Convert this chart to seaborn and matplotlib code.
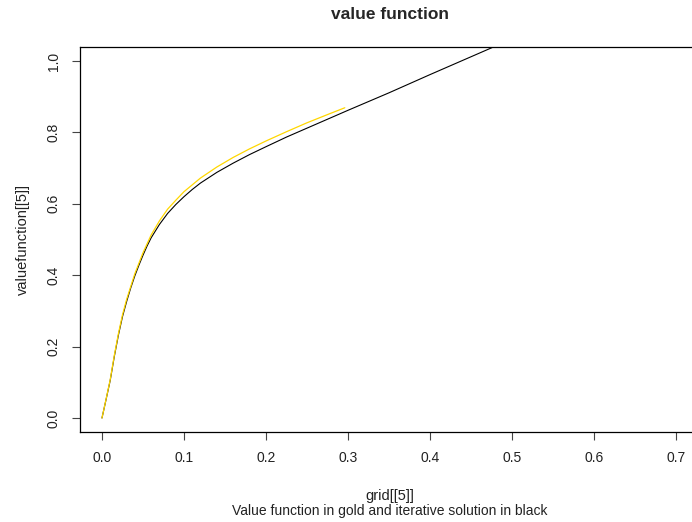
#!/usr/bin/env python3
# -*- coding: utf-8 -*-
"""
Value function vs iterative solution (R base-graphics look)
"""
import matplotlib
matplotlib.use('Agg')
import matplotlib.pyplot as plt
import seaborn as sns
import pandas as pd

# values
grid_x = [0.0, 0.005, 0.01, 0.015, 0.02, 0.025, 0.03, 0.035, 0.04, 0.045,
          0.05, 0.055, 0.06, 0.07, 0.08, 0.09, 0.10, 0.11, 0.12, 0.14,
          0.16, 0.18, 0.20, 0.225, 0.25, 0.275, 0.30, 0.35, 0.40, 0.45, 0.50]
iter_y = [0.0, 0.052, 0.105, 0.172, 0.232, 0.284, 0.326, 0.364, 0.398, 0.428,
          0.456, 0.482, 0.505, 0.542, 0.573, 0.598, 0.62, 0.64, 0.658, 0.688,
          0.714, 0.738, 0.76, 0.787, 0.812, 0.837, 0.862, 0.911, 0.962, 1.012, 1.062]

gold_x = [0.0, 0.005, 0.01, 0.015, 0.02, 0.025, 0.03, 0.04, 0.05, 0.06, 0.07,
          0.08, 0.09, 0.10, 0.12, 0.14, 0.16, 0.18, 0.20, 0.225, 0.25,
          0.275, 0.296]
gold_y = [0.0, 0.053, 0.107, 0.175, 0.236, 0.289, 0.332, 0.404, 0.463, 0.513, 0.552,
          0.585, 0.61, 0.634, 0.672, 0.703, 0.73, 0.754, 0.776, 0.802, 0.827,
          0.85, 0.869]

x_ticks = [0.0, 0.1, 0.2, 0.3, 0.4, 0.5, 0.6, 0.7]
y_ticks = [0.0, 0.2, 0.4, 0.6, 0.8, 1.0]

df_iter = pd.DataFrame({'x': grid_x, 'y': iter_y})
df_gold = pd.DataFrame({'x': gold_x, 'y': gold_y})

sns.set_style("ticks")
plt.rcParams['font.family'] = ['Liberation Sans', 'DejaVu Sans']

fig = plt.figure(figsize=(6.92, 5.22), dpi=100)
# axes box runs a little past the right edge of the picture, as in the reference
ax = fig.add_axes([80 / 692, 90 / 522, 620 / 692, 385 / 522])

sns.lineplot(data=df_iter, x='x', y='y', ax=ax, color='black', lw=0.8,
             sort=False, estimator=None)
sns.lineplot(data=df_gold, x='x', y='y', ax=ax, color='#FFD700', lw=0.9,
             sort=False, estimator=None)

ax.set_xlim(-0.0268, 0.729)
ax.set_ylim(-0.0392, 1.0392)
ax.set_xticks(x_ticks)
ax.set_yticks(y_ticks)
ax.set_xticklabels([f'{v:.1f}' for v in x_ticks])
ax.set_yticklabels([f'{v:.1f}' for v in y_ticks], rotation=90, va='center')

for s in ax.spines.values():
    s.set_visible(True)
    s.set_color('black')
    s.set_linewidth(0.9)

ax.tick_params(axis='both', direction='out', length=6, width=0.8,
               color='#444444', labelsize=10, labelcolor='#222222')
ax.tick_params(axis='x', pad=8)
ax.tick_params(axis='y', pad=8)

ax.set_xlabel('grid[[5]]', fontsize=10.5, color='#222222', labelpad=17)
ax.set_ylabel('valuefunction[[5]]', fontsize=10.5, color='#222222', labelpad=12)
ax.set_title('value function', fontsize=12.5, weight='bold', pad=20)
fig.text((80 + 700) / 2 / 692, 1 - 511 / 522,
         'Value function in gold and iterative solution in black',
         ha='center', va='center', fontsize=10, color='#222222')

plt.savefig('out.png', dpi=100)
